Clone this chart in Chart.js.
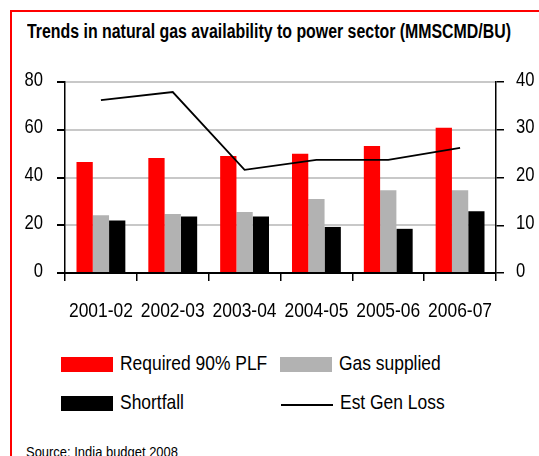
<!DOCTYPE html>
<html><head><meta charset="utf-8">
<script src="https://cdn.jsdelivr.net/npm/chart.js@4/dist/chart.umd.min.js"></script>
<style>
html,body{margin:0;padding:0;background:#fff}
body{width:539px;height:456px;overflow:hidden;position:relative;font-family:"Liberation Sans",Arial,sans-serif;color:#000}
#frame{position:absolute;left:10px;top:10px;width:700px;height:700px;border-left:2px solid #ff0000;border-top:2px solid #ff0000;box-sizing:border-box}
.cond{position:absolute;white-space:nowrap;transform-origin:0 0}
#title{left:27px;top:19px;font-weight:bold;font-size:20px;line-height:24px}
#wrap{position:absolute;left:0;top:0;width:539px;height:340px}
.lg{font-size:21px;line-height:24px}
.sw{position:absolute}
#source{left:26px;top:443px;font-size:15px;line-height:18px}
</style></head>
<body>
<div id="frame"></div>
<div id="title" class="cond" data-w="484">Trends in natural gas availability to power sector (MMSCMD/BU)</div>
<div id="wrap"><canvas id="c" width="539" height="340"></canvas></div>
<div id="legend"></div>
<div id="source" class="cond" data-w="152">Source: India budget 2008</div>
<script>
const categories = ['2001-02','2002-03','2003-04','2004-05','2005-06','2006-07'];
const requiredPLF = [46.5, 48.2, 49.0, 49.9, 53.2, 60.8];
const gasSupplied = [24.2, 24.7, 25.5, 31.0, 34.7, 34.7];
const shortfall   = [22.0, 23.7, 23.7, 19.3, 18.5, 25.9];
const estGenLoss  = [36.2, 37.9, 21.6, 23.7, 23.7, 26.2];
const leftTicks  = [0, 20, 40, 60, 80];
const rightTicks = [0, 10, 20, 30, 40];

const FONT = '"Liberation Sans",Arial,sans-serif';
const SX = 0.83; // horizontal condensing to mimic a narrow face

// Draw the axis labels in a condensed way (Chart.js tick labels are hidden)
const condensedTicks = {
  id:'condensedTicks',
  afterDraw(chart){
    const ctx = chart.ctx;
    ctx.save();
    ctx.fillStyle = '#000';
    const put = (txt, x, y, align, size) => {
      ctx.save();
      ctx.font = size + 'px ' + FONT;
      ctx.textBaseline = 'middle';
      ctx.textAlign = align;
      ctx.translate(x, y);
      ctx.scale(SX, 1);
      ctx.fillText(txt, 0, 0);
      ctx.restore();
    };
    const xs = chart.scales.x;
    xs.ticks.forEach((t, i) => {
      put(chart.data.labels[i], xs.getPixelForTick(i), xs.top + 38, 'center', 21);
    });
    const ys = chart.scales.y;
    ys.ticks.forEach(t => put(String(t.value), ys.right - 22, ys.getPixelForValue(t.value) - 2, 'right', 20));
    const y1 = chart.scales.y1;
    y1.ticks.forEach(t => put(String(t.value), y1.left + 20, y1.getPixelForValue(t.value) - 2, 'left', 20));
    ctx.restore();
  }
};

const chart = new Chart(document.getElementById('c'), {
  data: {
    labels: categories,
    datasets: [
      {type:'line', label:'Est Gen Loss', data: estGenLoss, yAxisID:'y1', borderColor:'#000', borderWidth:1.8, pointRadius:0, tension:0, fill:false, order:0},
      {type:'bar', label:'Required 90% PLF', data: requiredPLF, yAxisID:'y', backgroundColor:'#ff0000', barPercentage:1.0, categoryPercentage:0.68, order:1},
      {type:'bar', label:'Gas supplied', data: gasSupplied, yAxisID:'y', backgroundColor:'#b2b2b2', barPercentage:1.0, categoryPercentage:0.68, order:1},
      {type:'bar', label:'Shortfall', data: shortfall, yAxisID:'y', backgroundColor:'#000000', barPercentage:1.0, categoryPercentage:0.68, order:1}
    ]
  },
  options: {
    responsive:false, animation:false,
    layout:{padding:{top:82, left:0, right:0, bottom:0}},
    plugins:{legend:{display:false}, tooltip:{enabled:false}, title:{display:false}},
    scales:{
      x:{
        grid:{offset:true, drawOnChartArea:false, tickLength:8, tickColor:'#000', lineWidth:1.5, color:'#000'},
        border:{color:'#000', width:2},
        ticks:{display:false, autoSkip:false},
        afterFit(s){ s.height = 340 - 273; }
      },
      y:{
        position:'left', min:0, max:80,
        afterBuildTicks(s){ s.ticks = leftTicks.map(v=>({value:v})); },
        grid:{color:'#c8c8c8', lineWidth:2, tickColor:'#000', tickLength:8},
        border:{color:'#000', width:1.5},
        ticks:{display:false},
        afterFit(s){ s.width = 65; }
      },
      y1:{
        position:'right', min:0, max:40,
        afterBuildTicks(s){ s.ticks = rightTicks.map(v=>({value:v})); },
        grid:{drawOnChartArea:false, tickColor:'#000', tickLength:8, lineWidth:1.5},
        border:{color:'#000', width:1.5},
        ticks:{display:false},
        afterFit(s){ s.width = 539 - 496; }
      }
    }
  },
  plugins:[condensedTicks]
});

// HTML legend built from the chart's datasets
const legendPos = {
  'Required 90% PLF':{x:61, y:357},
  'Gas supplied':{x:280, y:357},
  'Shortfall':{x:61, y:396},
  'Est Gen Loss':{x:281, y:396}
};
const lg = document.getElementById('legend');
chart.data.datasets.forEach(ds => {
  const p = legendPos[ds.label];
  const sw = document.createElement('div');
  sw.className = 'sw';
  if (ds.type === 'line') {
    sw.style.cssText = `left:${p.x}px;top:${p.y+8}px;width:52px;height:0;border-top:2px solid ${ds.borderColor}`;
  } else {
    sw.style.cssText = `left:${p.x}px;top:${p.y}px;width:52px;height:15px;background:${ds.backgroundColor}`;
  }
  lg.appendChild(sw);
  const t = document.createElement('div');
  t.className = 'cond lg';
  t.textContent = ds.label;
  t.style.left = (p.x + 59) + 'px';
  t.style.top = (p.y - 6) + 'px';
  t.style.transform = `scaleX(${SX})`;
  lg.appendChild(t);
});
// fit title / source to their widths in the reference
document.querySelectorAll('.cond[data-w]').forEach(el => {
  const w = el.getBoundingClientRect().width;
  el.style.transform = `scaleX(${(+el.dataset.w / w).toFixed(4)})`;
});
</script>
</body></html>
